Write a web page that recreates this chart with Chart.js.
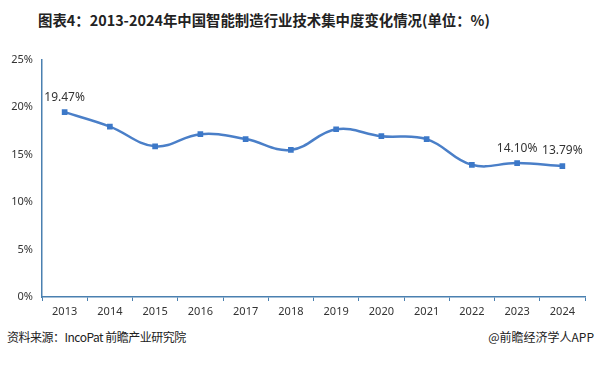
<!DOCTYPE html>
<html>
<head>
<meta charset="utf-8">
<script src="https://cdn.jsdelivr.net/npm/chart.js@4.4.1/dist/chart.umd.min.js"></script>
<style>
  body { margin: 0; background: #fff; font-family: "Noto Sans CJK SC", "Noto Sans", sans-serif; }
  #wrap { position: relative; width: 596px; height: 366px; overflow: hidden; }
  #title { position: absolute; top: 9px; left: 38px; font-size: 14.4px; font-weight: bold; color: #222; white-space: nowrap; }
  #box { position: absolute; top: 44px; left: 0; width: 596px; height: 281px; }
  #src { position: absolute; top: 328px; left: 7px; font-size: 12px; color: #222; letter-spacing: -0.5px; }
  #app { position: absolute; top: 328px; right: 2px; font-size: 12px; color: #222; }
</style>
</head>
<body>
<div id="wrap">
  <div id="title">图表4：2013-2024年中国智能制造行业技术集中度变化情况(单位：%)</div>
  <div id="box"><canvas id="line-chart"></canvas></div>
  <div id="src">资料来源：IncoPat 前瞻产业研究院</div>
  <div id="app">@前瞻经济学人APP</div>
</div>
<script>
var arrYears = ['2013', '2014', '2015', '2016', '2017', '2018', '2019', '2020', '2021', '2022', '2023', '2024'];
var arrShare = [19.47, 17.95, 15.87, 17.15, 16.63, 15.49, 17.67, 16.94, 16.63, 13.92, 14.10, 13.79];
var arrLabelIdx = [0, 10, 11];
var yTicks = [0, 5, 10, 15, 20, 25];

var axisColor = '#4a80b0';

// draw the few value labels that appear on the picture
var pointLabels = {
    id: 'pointLabels',
    afterDatasetsDraw: function (chart) {
        var ctx = chart.ctx;
        var meta = chart.getDatasetMeta(0);
        ctx.save();
        ctx.font = '12px "Noto Sans", sans-serif';
        ctx.fillStyle = '#333';
        ctx.textAlign = 'center';
        ctx.textBaseline = 'middle';
        arrLabelIdx.forEach(function (i) {
            var pt = meta.data[i];
            ctx.fillText(arrShare[i].toFixed(2) + '%', pt.x, pt.y - 15);
        });
        ctx.restore();
    }
};

var config = {
    type: 'line',
    data: {
        labels: arrYears,
        datasets: [{
            data: arrShare,
            borderColor: '#4a7fc8',
            borderWidth: 2.5,
            tension: 0.4,
            pointStyle: 'rect',
            pointRadius: 4,
            pointBackgroundColor: '#3c78c8',
            pointBorderColor: '#3c78c8',
            pointBorderWidth: 0
        }]
    },
    options: {
        responsive: true,
        maintainAspectRatio: false,
        animation: false,
        layout: { padding: { top: 12, right: 11, left: 0, bottom: 0 } },
        plugins: {
            legend: { display: false },
            tooltip: { enabled: false }
        },
        scales: {
            x: {
                offset: true,
                grid: { offset: true, drawOnChartArea: false, drawTicks: true, tickLength: 4, color: axisColor },
                border: { display: true, color: axisColor, width: 1.5 },
                ticks: { color: '#333', font: { size: 11, family: '"Noto Sans", sans-serif' }, padding: 4, maxRotation: 0 },
                afterFit: function (scale) { scale.height = 28; }
            },
            y: {
                min: 0,
                max: 25,
                afterBuildTicks: function (scale) {
                    scale.ticks = yTicks.map(function (v) { return { value: v }; });
                },
                grid: { display: false, drawTicks: false },
                border: { display: true, color: axisColor, width: 1.5 },
                ticks: {
                    color: '#333',
                    font: { size: 11, family: '"Noto Sans", sans-serif' },
                    padding: 9,
                    callback: function (v) { return v + '%'; }
                },
                afterFit: function (scale) { scale.width = 42; }
            }
        }
    },
    plugins: [pointLabels]
};

var myChart = new Chart(document.getElementById('line-chart').getContext('2d'), config);
</script>
</body>
</html>
